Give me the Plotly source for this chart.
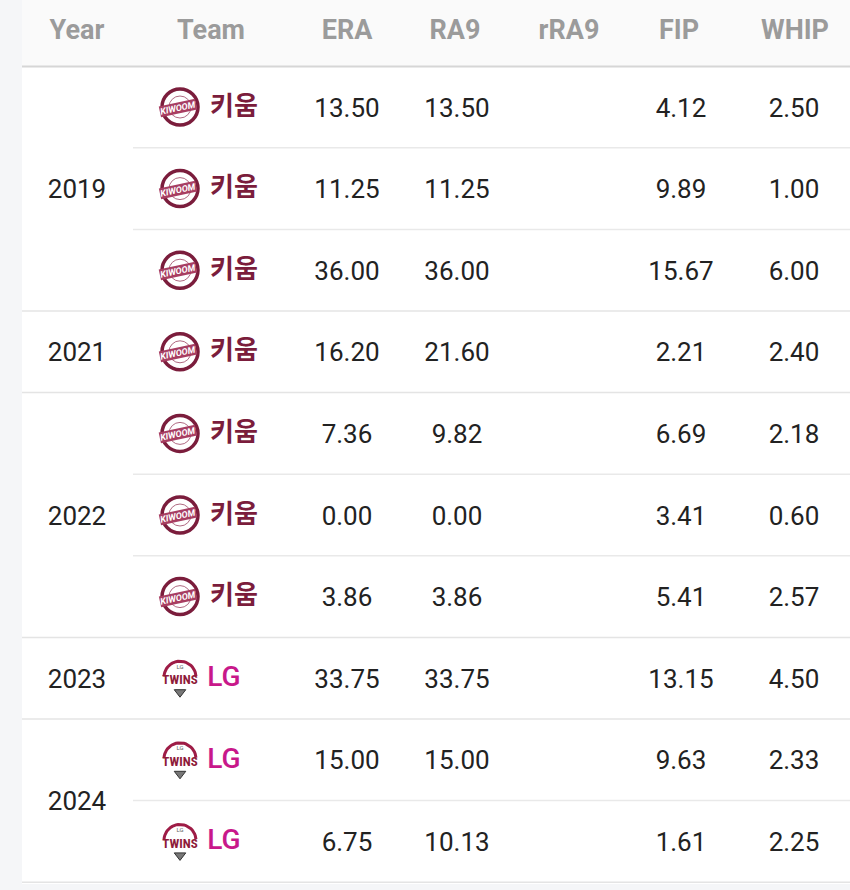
import math
import plotly.graph_objects as go

# ---------------- data ----------------
headers = ["Year", "Team", "ERA", "RA9", "rRA9", "FIP", "WHIP"]
years = ["2019", "2019", "2019", "2021", "2022", "2022", "2022", "2023", "2024", "2024"]
teams = ["키움", "키움", "키움", "키움", "키움", "키움", "키움", "LG", "LG", "LG"]
era = ["13.50", "11.25", "36.00", "16.20", "7.36", "0.00", "3.86", "33.75", "15.00", "6.75"]
ra9 = ["13.50", "11.25", "36.00", "21.60", "9.82", "0.00", "3.86", "33.75", "15.00", "10.13"]
rra9 = ["", "", "", "", "", "", "", "", "", ""]
fip = ["4.12", "9.89", "15.67", "2.21", "6.69", "3.41", "5.41", "13.15", "9.63", "1.61"]
whip = ["2.50", "1.00", "6.00", "2.40", "2.18", "0.60", "2.57", "4.50", "2.33", "2.25"]

# ---------------- layout constants ----------------
W, H = 850, 890
HEADER_Y = 29
ROW0 = 107.0
ROW_H = 81.6
TXT_DY = 3
col_x = {"Year": 77, "Team": 211, "ERA": 347, "RA9": 457, "rRA9": 569, "FIP": 681, "WHIP": 794}
header_x = {"Year": 77, "Team": 211, "ERA": 347, "RA9": 455, "rRA9": 569, "FIP": 679, "WHIP": 795}
LOGO_X = 180
KIWOOM = "#7b1d3c"
LG_PINK = "#c8188a"
TEXT = "#222222"
HEAD = "#9b9b9b"
LINE = "#e9e9e9"
FS = 26

n = len(years)
row_y = [ROW0 + ROW_H * i for i in range(n)]

fig = go.Figure()

shapes = [
    dict(type="rect", x0=0, x1=22, y0=0, y1=H, fillcolor="#f5f6f8", line_width=0, layer="below"),
    dict(type="rect", x0=22, x1=W, y0=0, y1=66, fillcolor="#fafafa", line_width=0, layer="below"),
    dict(type="rect", x0=0, x1=W, y0=884, y1=H, fillcolor="#f5f6f8", line_width=0, layer="below"),
    dict(type="line", x0=22, x1=W, y0=66.5, y1=66.5, line=dict(color="#d6d6d6", width=2)),
]
for i in range(n):
    yb = row_y[i] + ROW_H / 2
    last_in_group = (i == n - 1) or (years[i + 1] != years[i])
    x0 = 22 if last_in_group else 133
    shapes.append(dict(type="line", x0=x0, x1=W, y0=yb, y1=yb,
                       line=dict(color="#e4e4e4" if last_in_group else LINE, width=1.5)))

# header
fig.add_trace(go.Scatter(
    x=[header_x[h] for h in headers], y=[HEADER_Y + TXT_DY] * len(headers), mode="text",
    text=[f"<b>{h}</b>" for h in headers],
    textfont=dict(family="Roboto", size=FS + 1, color=HEAD), hoverinfo="skip"))

# year labels (merged)
groups = []
for i, yv in enumerate(years):
    if groups and groups[-1][0] == yv:
        groups[-1][1].append(row_y[i])
    else:
        groups.append((yv, [row_y[i]]))
fig.add_trace(go.Scatter(
    x=[col_x["Year"]] * len(groups), y=[sum(g[1]) / len(g[1]) + TXT_DY for g in groups],
    mode="text", text=[g[0] for g in groups],
    textfont=dict(family="Roboto", size=FS, color=TEXT), hoverinfo="skip"))

for name, vals in [("ERA", era), ("RA9", ra9), ("rRA9", rra9), ("FIP", fip), ("WHIP", whip)]:
    fig.add_trace(go.Scatter(
        x=[col_x[name]] * n, y=[y + TXT_DY for y in row_y], mode="text", text=vals,
        textfont=dict(family="Roboto", size=FS, color=TEXT), hoverinfo="skip"))

# team names
kw_y = [row_y[i] for i in range(n) if teams[i] == "키움"]
lg_y = [row_y[i] for i in range(n) if teams[i] == "LG"]
fig.add_trace(go.Scatter(
    x=[234] * len(kw_y), y=[y + 1 for y in kw_y], mode="text", text=["<b>키움</b>"] * len(kw_y),
    textfont=dict(family="Noto Sans CJK KR", size=26, color=KIWOOM), hoverinfo="skip"))
fig.add_trace(go.Scatter(
    x=[224] * len(lg_y), y=[y + 1 for y in lg_y], mode="text", text=["LG"] * len(lg_y),
    textfont=dict(family="Roboto Medium, Roboto", size=28, color=LG_PINK), hoverinfo="skip"))

# Kiwoom logos
fig.add_trace(go.Scatter(
    x=[LOGO_X] * len(kw_y), y=kw_y, mode="markers",
    marker=dict(symbol="circle", size=36, color="white", line=dict(color=KIWOOM, width=3.5)),
    hoverinfo="skip"))
fig.add_trace(go.Scatter(
    x=[LOGO_X] * len(kw_y), y=kw_y, mode="markers",
    marker=dict(symbol="circle", size=22, color="white", line=dict(color="#b06a82", width=1)),
    hoverinfo="skip"))
annotations = []
for y in kw_y:
    annotations.append(dict(x=LOGO_X - 2, y=y + 1, xref="x", yref="y", text="<b><i>KIWOOM</i></b>",
                            showarrow=False, bgcolor="#a83e62", borderpad=0, textangle=-12,
                            font=dict(family="Roboto", size=9, color="white")))

# LG Twins logos
for y in lg_y:
    xs, ys = [], []
    for k in range(25):
        a = math.pi * (0.02 + 0.96 * k / 24)
        xs.append(LOGO_X + 16 * math.cos(a))
        ys.append(y - 1 - 16 * math.sin(a))
    fig.add_trace(go.Scatter(x=xs, y=ys, mode="lines", line=dict(color="#9e1c46", width=3),
                             hoverinfo="skip"))
fig.add_trace(go.Scatter(
    x=[LOGO_X] * len(lg_y), y=[y - 11 for y in lg_y], mode="text", text=["LG"] * len(lg_y),
    textfont=dict(family="Roboto", size=6, color="#666"), hoverinfo="skip"))
fig.add_trace(go.Scatter(
    x=[LOGO_X] * len(lg_y), y=[y + 3 for y in lg_y], mode="text", text=["<b>TWINS</b>"] * len(lg_y),
    textfont=dict(family="Roboto Condensed, Roboto", size=13, color="#8e1b3a"), hoverinfo="skip"))
fig.add_trace(go.Scatter(
    x=[LOGO_X] * len(lg_y), y=[y + 14 for y in lg_y], mode="markers",
    marker=dict(symbol="triangle-down", size=10, color="#777", line=dict(color="#333", width=1)),
    hoverinfo="skip"))

fig.update_layout(
    width=W, height=H, margin=dict(l=0, r=0, t=0, b=0),
    paper_bgcolor="white", plot_bgcolor="white", showlegend=False,
    xaxis=dict(range=[0, W], visible=False, fixedrange=True),
    yaxis=dict(range=[H, 0], visible=False, fixedrange=True),
    shapes=shapes, annotations=annotations,
)
fig.write_html("out.html", config={"displayModeBar": False},
               post_script="document.body.style.margin='0';")
